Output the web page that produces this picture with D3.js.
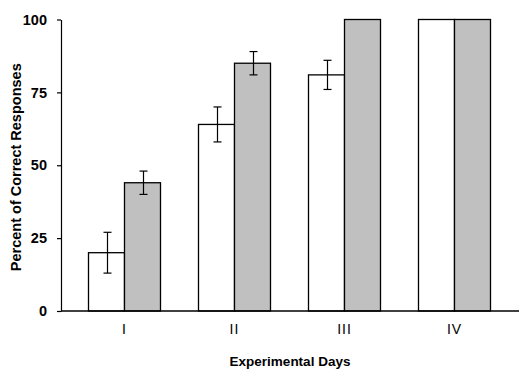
<!DOCTYPE html>
<html>
<head>
<meta charset="utf-8">
<script src="https://cdn.jsdelivr.net/npm/d3@7"></script>
<style>
  html, body { margin: 0; padding: 0; background: #fff; }
  svg { display: block; }
</style>
</head>
<body>
<svg id="chart" width="524" height="382"></svg>
<script>
// ---- data ----
const categories = ["I", "II", "III", "IV"];
const seriesA = [20, 64, 81, 100];          // white bars
const seriesB = [44, 85, 100, 100];         // gray bars
const errorA = [7, 6, 5, 0];
const errorB = [4, 4, 0, 0];
const yTicks = [0, 25, 50, 75, 100];
const yTitle = "Percent of Correct Responses";
const xTitle = "Experimental Days";

(function () {
// ---- layout ----
const svg = d3.select("#chart");
const mLeft = 61, mRight = 519, mTop = 19.5, mBottom = 311;
const font = "'Liberation Sans', Arial, sans-serif";

const y = d3.scaleLinear().domain([0, 100]).range([mBottom, mTop]);
const x = d3.scaleBand().domain(categories).range([69.5, 509.5]).padding(0);
const barW = 36;

const series = [
  { values: seriesA, errors: errorA, fill: "#ffffff", offset: -barW },
  { values: seriesB, errors: errorB, fill: "#c0c0c0", offset: 0 }
];

// bars
series.forEach(s => {
  svg.append("g").selectAll("rect")
    .data(categories)
    .join("rect")
    .attr("x", (d) => x(d) + x.bandwidth() / 2 + s.offset)
    .attr("y", (d, i) => y(s.values[i]))
    .attr("width", barW)
    .attr("height", (d, i) => y(0) - y(s.values[i]))
    .attr("fill", s.fill)
    .attr("stroke", "#000")
    .attr("stroke-width", 1.3);
});

// error bars
series.forEach(s => {
  const g = svg.append("g").attr("stroke", "#000").attr("stroke-width", 1.2);
  categories.forEach((c, i) => {
    if (!s.errors[i]) return;
    const cx = Math.round(x(c) + x.bandwidth() / 2 + s.offset + barW / 2) + 0.5;
    const y1 = y(s.values[i] + s.errors[i]);
    const y2 = y(s.values[i] - s.errors[i]);
    g.append("line").attr("x1", cx).attr("x2", cx).attr("y1", y1).attr("y2", y2);
    g.append("line").attr("x1", cx - 4).attr("x2", cx + 4).attr("y1", y1).attr("y2", y1);
    g.append("line").attr("x1", cx - 4).attr("x2", cx + 4).attr("y1", y2).attr("y2", y2);
  });
});

// y axis
const yAxis = svg.append("g")
  .attr("transform", `translate(${mLeft},0)`)
  .call(d3.axisLeft(y).tickValues(yTicks).tickSize(4).tickSizeOuter(0).tickPadding(10));
yAxis.select(".domain").attr("stroke", "#000").attr("stroke-width", 1.2);
yAxis.selectAll(".tick line").attr("stroke", "#000").attr("stroke-width", 1.2);
yAxis.selectAll("text")
  .attr("font-family", font).attr("font-size", 14.5).attr("font-weight", "bold").attr("fill", "#000");

// x axis
const xAxis = svg.append("g")
  .attr("transform", `translate(0,${mBottom})`)
  .call(d3.axisBottom(x).tickSize(0).tickPadding(13));
xAxis.select(".domain").remove();
xAxis.selectAll("text")
  .attr("font-family", font).attr("font-size", 14).attr("letter-spacing", 1).attr("fill", "#000");
svg.append("line")
  .attr("x1", mLeft).attr("x2", mRight).attr("y1", mBottom).attr("y2", mBottom)
  .attr("stroke", "#000").attr("stroke-width", 1.5);

// titles
svg.append("text")
  .attr("transform", `translate(21,${(mTop + mBottom) / 2 + 2}) rotate(-90)`)
  .attr("text-anchor", "middle")
  .attr("font-family", font).attr("font-size", 14.5).attr("font-weight", "bold")
  .text(yTitle);
svg.append("text")
  .attr("x", (mLeft + mRight) / 2).attr("y", 366)
  .attr("text-anchor", "middle")
  .attr("font-family", font).attr("font-size", 13.5).attr("font-weight", "bold")
  .text(xTitle);
})();
</script>
</body>
</html>
